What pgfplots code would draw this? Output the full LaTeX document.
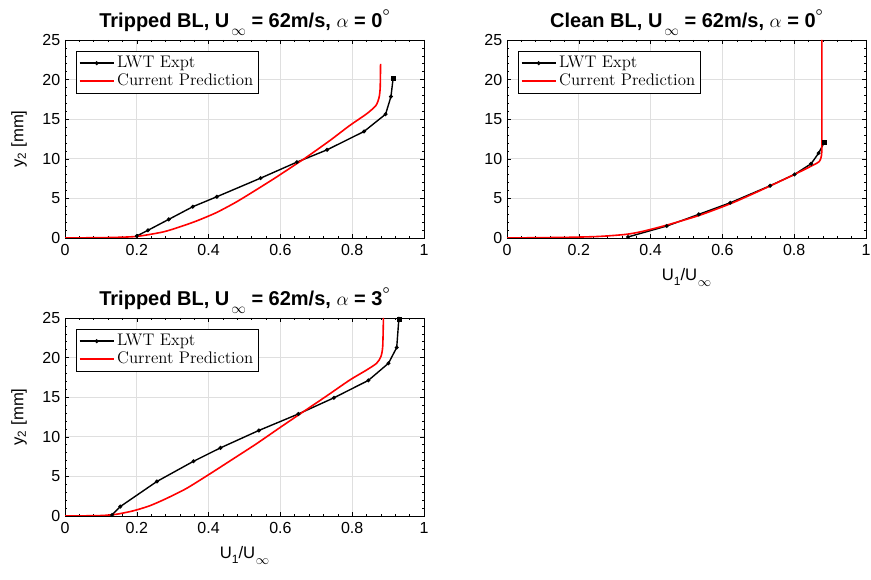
\documentclass[border=0pt]{standalone}
\usepackage{fontspec}
\setmainfont{Liberation Sans}
\newfontfamily\lmr{Latin Modern Roman}
\usepackage{pgfplots}
\pgfplotsset{compat=1.18}
\newcommand{\Uinf}{U\hspace{1.5pt}\raisebox{-5.7pt}{\fontsize{11}{11}\selectfont$\infty$}}
\newcommand{\degc}{\raisebox{9.5pt}{\fontsize{9.5}{9.5}\selectfont$\boldsymbol{\circ}$}}
\newcommand{\UoU}{U\raisebox{-3.5pt}{\fontsize{9}{9}\selectfont 1}/U\hspace{0.5pt}\raisebox{-4.5pt}{\fontsize{10}{10}\selectfont$\infty$}}
\usepackage{amsmath}
\pgfplotsset{
  bl/.style={
    width=269.25pt, height=148.5pt, scale only axis,
    xmin=0, xmax=1, ymin=0, ymax=25,
    xtick={0,0.2,0.4,0.6,0.8,1}, ytick={0,5,10,15,20,25},
    minor x tick num=4, minor y tick num=4,
    tick align=inside, major tick length=3pt, minor tick length=1.5pt,
    grid=major, major grid style={gray!25, line width=0.6pt},
    axis line style={line width=0.5pt},
    every tick/.style={black, line width=0.4pt},
    /pgf/number format/assume math mode=true,
    tick label style={font=\fontsize{12}{14}\selectfont},
    xticklabel style={yshift=-1pt},
    every axis title shift=0pt,
    title style={font=\bfseries\fontsize{15}{17}\selectfont, at={(0.5,1)}, anchor=base, yshift=9.2pt},
    xlabel style={font=\fontsize{12.5}{14}\selectfont, at={(axis description cs:0.5,-0.215)}, anchor=base},
    ylabel style={font=\fontsize{12.5}{14}\selectfont, at={(axis description cs:-0.128,0.5)}, anchor=center},
    legend style={at={(0.031,0.944)}, anchor=north west, font=\lmr\fontsize{12.6}{14.5}\selectfont,
      draw=black, inner sep=1.8pt, row sep=-1pt},
    legend cell align=left,
    legend image code/.code={\draw[mark repeat=2,mark phase=2,#1] plot coordinates {(0cm,0cm) (0.45cm,0cm) (0.9cm,0cm)};},
  },
  expt/.style={black, line width=1.05pt, mark=*, mark size=0.9pt},
  pred/.style={red, line width=1.2pt, no marks, smooth, tension=0.4},
}
\begin{document}
\begin{tikzpicture}
\useasboundingbox (0,0) rectangle (653.25pt,435pt);
% Plot 1
\begin{axis}[bl, at={(48.75pt,256.5pt)}, anchor=south west,
  title={Tripped BL, \Uinf{} = 62m/s, $\alpha$ = 0\degc},
  ylabel={y\textsubscript{2} [mm]}]
\addplot[expt] coordinates {
(0.200,0.25) (0.231,0.97) (0.289,2.35) (0.356,3.95) (0.423,5.21) (0.545,7.56)
(0.646,9.58) (0.730,11.13) (0.833,13.45) (0.893,15.63) (0.908,17.86) (0.914,20.17)};
\addlegendentry{LWT Expt}
\addplot[pred] coordinates {
(0,0) (0.124,0.06) (0.200,0.2) (0.273,0.76) (0.319,1.39) (0.366,2.14) (0.421,3.19)
(0.477,4.54) (0.533,6.09) (0.589,7.69) (0.645,9.37) (0.673,10.21) (0.738,12.31)
(0.793,14.2) (0.840,15.67) (0.866,16.72) (0.875,17.77) (0.878,19.03) (0.879,21.97)};
\addlegendentry{Current Prediction}
\addplot[black, only marks, mark=square*, mark size=1.5pt, forget plot] coordinates {(0.914,20.17)};
\end{axis}
% Plot 2
\begin{axis}[bl, at={(380.25pt,256.5pt)}, anchor=south west,
  title={Clean BL, \Uinf{} = 62m/s, $\alpha$ = 0\degc},
  xlabel={\UoU}]
\addplot[expt] coordinates {
(0.337,0.13) (0.445,1.51) (0.534,2.98) (0.622,4.45) (0.733,6.60) (0.801,8.03)
(0.847,9.37) (0.868,10.71) (0.884,12.1)};
\addlegendentry{LWT Expt}
\addplot[pred] coordinates {
(0,0) (0.165,0.08) (0.258,0.20) (0.332,0.46) (0.378,0.84) (0.443,1.6) (0.536,2.86)
(0.629,4.45) (0.722,6.34) (0.801,8.03) (0.851,9.16) (0.870,9.66) (0.876,10.42)
(0.877,12.3) (0.877,25)};
\addlegendentry{Current Prediction}
\addplot[black, only marks, mark=square*, mark size=1.5pt, forget plot] coordinates {(0.884,12.1)};
\end{axis}
% Plot 3
\begin{axis}[bl, at={(48.75pt,48pt)}, anchor=south west,
  title={Tripped BL, \Uinf{} = 62m/s, $\alpha$ = 3\degc},
  xlabel={\UoU},
  ylabel={y\textsubscript{2} [mm]}]
\addplot[expt] coordinates {
(0.131,0.13) (0.154,1.19) (0.256,4.36) (0.358,6.91) (0.433,8.6) (0.540,10.8)
(0.650,12.88) (0.749,14.92) (0.845,17.12) (0.901,19.28) (0.924,21.27) (0.930,24.9)};
\addlegendentry{LWT Expt}
\addplot[pred] coordinates {
(0,0) (0.096,0.05) (0.142,0.21) (0.189,0.64) (0.235,1.27) (0.282,2.2) (0.338,3.47)
(0.403,5.3) (0.468,7.2) (0.533,9.11) (0.598,11.14) (0.663,13.14) (0.728,15.13)
(0.793,17.16) (0.840,18.43) (0.868,19.28) (0.880,20.13) (0.885,21.4) (0.887,25)};
\addlegendentry{Current Prediction}
\addplot[black, only marks, mark=square*, mark size=1.5pt, forget plot] coordinates {(0.930,24.9)};
\end{axis}
\end{tikzpicture}
\end{document}
